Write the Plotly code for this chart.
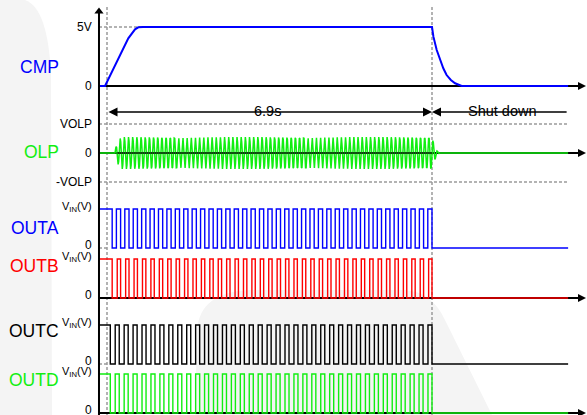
import numpy as np
import plotly.graph_objects as go

W, H = 587, 415
FONT = "Liberation Sans, Arial, sans-serif"

# ---------------- data ----------------
t_on = 0.0        # start (dashed line)
t_off = 6.9       # shutdown instant
t_axis = -0.17    # vertical axis position (time units)
t_end = 9.79      # end of drawn traces
t_tip = 10.17     # arrow tips of horizontal axes

cmp_t = [-0.17, -0.042, 0.452, 0.524, 0.595, 0.665, 0.764, 6.9,
         6.93, 7.0, 7.07, 7.14, 7.21, 7.30, 7.39, 7.46, 7.53, 9.79]
cmp_v = [0.0, 0.0, 4.04, 4.47, 4.80, 4.97, 5.0, 5.0,
         4.18, 3.05, 2.20, 1.50, 0.93, 0.51, 0.23, 0.08, 0.0, 0.0]

volp = 1.0
olp_env_t = [0.17, 0.22, 0.30, 6.90, 6.95, 7.00, 7.06]
olp_env_a = [0.12, 0.35, 0.55, 0.55, 0.28, 0.08, 0.0]
olp_cycles = 76          # oscillation cycles between start and shutdown

out_names = ["OUTA", "OUTB", "OUTC", "OUTD"]
out_colors = ["#0000ff", "#ff0000", "#000000", "#11ee11"]
out_first_drop = [0.11, 0.11, 0.07, 0.07]
out_pulses = [38, 38, 36, 36]
out_duty = [0.5, 0.4, 0.45, 0.45]
vin = 1.0

# ---------------- layout helpers ----------------
PXS = (432 - 107) / (t_off - t_on)      # pixels per second
x_range = [(0 - 107) / PXS, (W - 107) / PXS]


def py(ypx):
    return 1 - ypx / H


def px(xpx):
    return xpx / W


def yaxis_cfg(zero_px, full_px, full_val, lo_px, hi_px):
    k = (zero_px - full_px) / full_val
    return dict(domain=[py(lo_px), py(hi_px)],
                range=[(zero_px - lo_px) / k, (zero_px - hi_px) / k],
                visible=False, fixedrange=True, anchor="x")


fig = go.Figure()

# panel axes: (zero px, full px, full value, bottom px, top px)
panels = {
    "y":  (86, 27, 5.0, 92, 4),
    "y2": (153, 124, volp, 192, 116),
    "y3": (248, 209, vin, 254, 203),
    "y4": (298, 259, vin, 304, 253),
    "y5": (364, 325, vin, 370, 319),
    "y6": (413, 374, vin, 415, 368),
}
layout_axes = {}
for i, (k, v) in enumerate(panels.items()):
    name = "yaxis" if k == "y" else "yaxis" + k[1:]
    layout_axes[name] = yaxis_cfg(*v)
layout_axes["yaxis7"] = dict(domain=[0, 1], range=[0, 1], visible=False,
                             fixedrange=True, anchor="x")

# ---------------- traces ----------------
fig.add_trace(go.Scatter(x=cmp_t, y=cmp_v, mode="lines", yaxis="y", xaxis="x",
                         line=dict(color="#0000ff", width=2), hoverinfo="skip"))

f = olp_cycles / (t_off - olp_env_t[0])
ts = np.linspace(olp_env_t[0], olp_env_t[-1], int(olp_cycles * 1.03 * 8))
amp = np.interp(ts, olp_env_t, olp_env_a)
vals = amp * np.sin(2 * np.pi * f * (ts - olp_env_t[0]))
olp_t = [t_axis] + list(ts) + [t_end]
olp_v = [0.0] + list(vals) + [0.0]
fig.add_trace(go.Scatter(x=olp_t, y=olp_v, mode="lines", yaxis="y2", xaxis="x",
                         line=dict(color="#11ee11", width=1.5), hoverinfo="skip"))
fig.add_trace(go.Scatter(x=[olp_env_t[1], t_off], y=[0, 0], mode="lines", yaxis="y2",
                         line=dict(color="#113311", width=1.5), hoverinfo="skip"))


def pulse_wave(t_drop, n, duty):
    P = (t_off - t_drop) / n
    tt = [t_axis, t_drop, t_drop]
    vv = [vin, vin, 0.0]
    for k in range(n):
        r = t_drop + k * P + (1 - duty) * P
        fl = t_drop + (k + 1) * P
        tt += [r, r, fl, fl]
        vv += [0.0, vin, vin, 0.0]
    tt.append(t_end)
    vv.append(0.0)
    return tt, vv


for i, nm in enumerate(out_names):
    tt, vv = pulse_wave(out_first_drop[i], out_pulses[i], out_duty[i])
    fig.add_trace(go.Scatter(x=tt, y=vv, mode="lines", yaxis="y%d" % (i + 3), xaxis="x",
                             line=dict(color=out_colors[i], width=1.4), hoverinfo="skip"))

# vertical axis line with arrowhead (drawn last, on top)
fig.add_trace(go.Scatter(x=[t_axis, t_axis], y=[0, py(12)], mode="lines", yaxis="y7",
                         line=dict(color="black", width=2), hoverinfo="skip"))
fig.add_trace(go.Scatter(x=[t_axis], y=[py(11.5)], mode="markers", yaxis="y7",
                         marker=dict(symbol="triangle-up", size=8, color="black"),
                         hoverinfo="skip", cliponaxis=False))

# ---------------- shapes ----------------
shapes = []
GREY = "#f4f4f4"


def path(points):
    s = ""
    for cmd, pts in points:
        s += cmd + " ".join("%.5f,%.5f" % (px(a), py(b)) for a, b in pts) + " "
    return s + "Z"


shapes.append(dict(type="path", xref="paper", yref="paper", layer="below",
                   fillcolor=GREY, line=dict(width=0),
                   path=path([("M", [(0, 0)]), ("L", [(25, 0)]), ("Q", [(48, 8), (51, 75)]),
                              ("L", [(52, 415)]), ("L", [(0, 415)])])))
shapes.append(dict(type="path", xref="paper", yref="paper", layer="below",
                   fillcolor=GREY, line=dict(width=0),
                   path=path([("M", [(195, 415)]), ("L", [(197, 330)]), ("Q", [(200, 292), (250, 290)]),
                              ("L", [(405, 290)]), ("Q", [(432, 292), (445, 320)]),
                              ("L", [(492, 415)])])))

DASH = dict(color="#9a9a9a", width=1.5, dash="3px,2px")
for tv in (t_on, t_off):
    shapes.append(dict(type="line", xref="x", yref="paper", x0=tv, x1=tv,
                       y0=py(7), y1=py(415), line=DASH, layer="below"))
shapes.append(dict(type="line", xref="x", yref="y", x0=t_axis, x1=t_off, y0=5, y1=5,
                   line=DASH, layer="below"))
for lv in (volp, -volp):
    shapes.append(dict(type="line", xref="x", yref="y2", x0=t_axis, x1=t_end, y0=lv, y1=lv,
                       line=DASH, layer="below"))
for yr in ("y3", "y5"):
    shapes.append(dict(type="line", xref="x", yref=yr, x0=t_axis, x1=t_on, y0=0, y1=0,
                       line=DASH, layer="below"))

AX = dict(color="#000000", width=2)
for yr in ("y", "y2", "y4", "y6"):
    shapes.append(dict(type="line", xref="x", yref=yr, x0=t_axis, x1=t_tip - 0.1,
                       y0=0, y1=0, line=AX, layer="below"))

# ---------------- annotations ----------------
ann = []
for yr in ("y", "y2", "y4", "y6"):
    ann.append(dict(x=t_tip, xref="x", y=0, yref=yr, ax=-14, ay=0, text=" ",
                    showarrow=True, arrowhead=2, arrowsize=0.8, arrowwidth=2, arrowcolor="black",
                    font=dict(size=1)))

ann.append(dict(x=t_off, xref="x", axref="x", ax=t_on, y=py(112), yref="paper", ay=0,
                text=" ", font=dict(size=1), showarrow=True, arrowhead=2, startarrowhead=2,
                arrowside="end+start", arrowsize=1.2, startarrowsize=1.2, arrowwidth=1.5,
                arrowcolor="black", standoff=0, startstandoff=0))
ann.append(dict(x=t_off, xref="x", axref="x", ax=t_end, y=py(112), yref="paper", ay=0,
                text=" ", font=dict(size=1), showarrow=True, arrowhead=2, arrowsize=1.2,
                arrowwidth=1.5, arrowcolor="black", standoff=0))
ann.append(dict(x=(t_on + t_off) / 2 - 0.05, xref="x", y=py(101), yref="paper", text="6.9s",
                showarrow=False, font=dict(family=FONT, size=14.5, color="black")))
ann.append(dict(x=(t_off + t_end) / 2 + 0.05, xref="x", y=py(101), yref="paper", text="Shut down",
                showarrow=False, font=dict(family=FONT, size=14.5, color="black")))

TF = dict(family=FONT, size=12, color="black")
TFS = dict(family=FONT, size=11, color="black")
ticks = [("y", 5, "5V", 0, TF), ("y", 0, "0", 0, TF),
         ("y2", volp, "VOLP", 0, TF), ("y2", 0, "0", 0, TF), ("y2", -volp, "-VOLP", 0, TF)]
for yr in ("y3", "y4", "y5", "y6"):
    ticks += [(yr, vin, "V<sub>IN</sub>(V)", 2, TFS), (yr, 0, "0", 3, TF)]
for yr, val, txt, ys, fnt in ticks:
    ann.append(dict(x=t_axis, xref="x", y=val, yref=yr, text=txt, showarrow=False,
                    xanchor="right", xshift=-5, yshift=ys, font=fnt))

names = [("CMP", 55, "#0000ff"), ("OLP", 152, "#11ee11"), ("OUTA", 228, "#0000ff"),
         ("OUTB", 278, "#ff0000"), ("OUTC", 343, "#000000"), ("OUTD", 392, "#11ee11")]
for txt, ypx, col in names:
    ann.append(dict(x=px(61), xref="paper", y=py(ypx), yref="paper", text=txt,
                    showarrow=False, xanchor="right",
                    font=dict(family=FONT, size=17.5, color=col)))

fig.update_layout(
    width=W, height=H, margin=dict(l=0, r=0, t=0, b=0),
    paper_bgcolor="white", plot_bgcolor="rgba(0,0,0,0)",
    showlegend=False,
    xaxis=dict(range=x_range, visible=False, fixedrange=True, domain=[0, 1]),
    shapes=shapes, annotations=ann,
    **layout_axes,
)

fig.write_html("out.html", config={"displayModeBar": False},
               post_script="document.body.style.margin='0';document.body.style.overflow='hidden';")
